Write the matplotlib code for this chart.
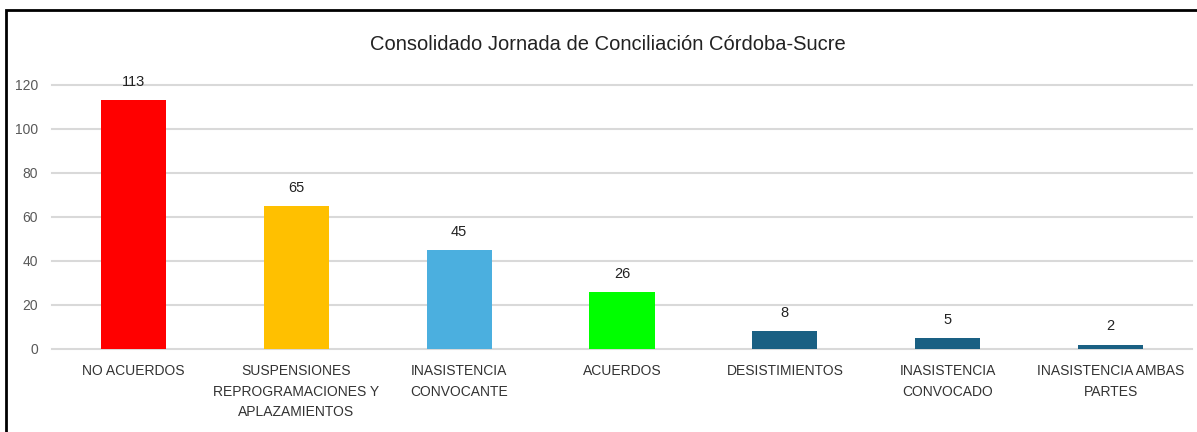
import matplotlib.pyplot as plt
from matplotlib.patches import Rectangle
import numpy as np

plt.rcParams['font.family'] = ['Liberation Sans', 'DejaVu Sans']

# Data
categories = ['NO ACUERDOS', 'SUSPENSIONES\nREPROGRAMACIONES Y\nAPLAZAMIENTOS',
              'INASISTENCIA\nCONVOCANTE', 'ACUERDOS', 'DESISTIMIENTOS',
              'INASISTENCIA\nCONVOCADO', 'INASISTENCIA AMBAS\nPARTES']
values = [113, 65, 45, 26, 8, 5, 2]
colors = ['#FF0000', '#FFC000', '#4BAFDF', '#00FF00', '#1A6083', '#1A6083', '#1A6083']
yticks = [0, 20, 40, 60, 80, 100, 120]

fig = plt.figure(figsize=(11.97, 4.32), dpi=100)
ax = fig.add_axes([52 / 1197, 83 / 432, 1140 / 1197, 264 / 432])

x = np.arange(len(categories))
ax.bar(x, values, width=0.4, color=colors, zorder=3)
for xi, v in zip(x, values):
    ax.annotate(str(v), (xi, v), xytext=(0, 8), textcoords='offset points',
                ha='center', va='bottom', fontsize=10.5, color='#222222')

ax.set_xlim(-0.5, len(categories) - 0.5)
ax.set_ylim(0, 120)
ax.set_yticks(yticks)
ax.set_xticks(x)
ax.set_xticklabels(categories, fontsize=10, color='#333333', linespacing=1.6)
ax.tick_params(axis='y', labelsize=10, labelcolor='#595959', length=0, pad=10)
ax.tick_params(axis='x', length=0, pad=11)
ax.grid(axis='y', color='#D9D9D9', linewidth=1.5, zorder=0)
for gl in ax.get_ygridlines():
    gl.set_clip_on(False)
for s in ax.spines.values():
    s.set_visible(False)

fig.text(0.5075, 1 - 45 / 432, 'Consolidado Jornada de Conciliación Córdoba-Sucre',
         ha='center', va='center', fontsize=14.5, color='#222222')

# outer border of the chart box
fig.patches.append(Rectangle((6 / 1197, -0.1), 1.2, 1 - 10 / 432 + 0.1,
                             transform=fig.transFigure, fill=False,
                             edgecolor='black', linewidth=2))

fig.savefig('out.png', dpi=100)
